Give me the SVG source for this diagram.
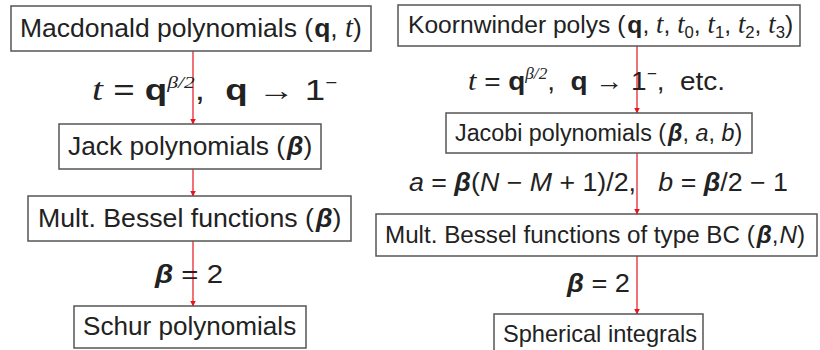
<svg xmlns="http://www.w3.org/2000/svg" width="820" height="350" viewBox="0 0 820 350">
<defs>
<marker id="ah" markerUnits="userSpaceOnUse" markerWidth="6" markerHeight="7" refX="5.5" refY="3" orient="auto">
<path d="M0,0 L6,3 L0,6 Z" fill="#e8141b"/>
</marker>
<style>
.box{fill:#fff;stroke:#555;stroke-width:1.5}
.t{font-family:"Liberation Sans",Arial,sans-serif;font-size:26px;fill:#222}
.r{font-size:25px}
.i{font-style:italic}
.b{font-weight:bold}
.bi{font-weight:bold;font-style:italic}
.m{font-family:"Liberation Serif",serif;font-style:italic;font-size:1.08em}
.sup{font-size:16px}
.sub{font-size:0.68em}
.conn{stroke:#e8141b;stroke-width:1.2;fill:none;marker-end:url(#ah)}
</style>
</defs>
<g id="connectors">
<line class="conn" x1="193" y1="51" x2="193" y2="124"/>
<line class="conn" x1="193" y1="169" x2="193" y2="196"/>
<line class="conn" x1="193" y1="241" x2="193" y2="306"/>
<line class="conn" x1="637" y1="46" x2="637" y2="113"/>
<line class="conn" x1="637" y1="153" x2="637" y2="214"/>
<line class="conn" x1="637" y1="256" x2="637" y2="314"/>
</g>
<g id="labels">
<text class="t" x="92" y="100" style="font-size:29px" textLength="245" lengthAdjust="spacingAndGlyphs"><tspan class="m">t</tspan>&#160;=&#160;<tspan class="b">q</tspan><tspan class="sup m" style="font-size:17px" dy="-12">β/2</tspan><tspan dy="12">,&#160;&#160;</tspan><tspan class="b">q</tspan>&#160;→&#160;1<tspan class="sup" dy="-12">−</tspan></text>
<text class="t" x="155" y="283" textLength="68" lengthAdjust="spacingAndGlyphs"><tspan class="bi">β</tspan>&#160;=&#160;2</text>
<text class="t" x="468" y="90" style="font-size:26px" textLength="257" lengthAdjust="spacingAndGlyphs"><tspan class="m">t</tspan>&#160;=&#160;<tspan class="b">q</tspan><tspan class="sup m" style="font-size:16px" dy="-11">β/2</tspan><tspan dy="11">,&#160;&#160;</tspan><tspan class="b">q</tspan>&#160;→&#160;1<tspan class="sup" dy="-11">−</tspan><tspan dy="11">,&#160;&#160;etc.</tspan></text>
<text class="t r" x="409" y="191" textLength="379" lengthAdjust="spacingAndGlyphs"><tspan class="i">a</tspan>&#160;=&#160;<tspan class="bi">β</tspan>(<tspan class="i">N</tspan>&#160;−&#160;<tspan class="i">M</tspan>&#160;+&#160;1)/2,&#160;&#160;&#160;<tspan class="i">b</tspan>&#160;=&#160;<tspan class="bi">β</tspan>/2&#160;−&#160;1</text>
<text class="t r" x="567" y="292" textLength="63" lengthAdjust="spacingAndGlyphs"><tspan class="bi">β</tspan>&#160;=&#160;2</text>
</g>
<g id="macdonald">
<rect class="box" x="11" y="6" width="360" height="45"/>
<text class="t" x="20" y="37" style="font-size:26.5px">Macdonald polynomials (<tspan class="b" dx="1">q</tspan>, <tspan class="m">t</tspan>)</text>
</g>
<g id="jack">
<rect class="box" x="59" y="124" width="262" height="45"/>
<text class="t" x="68" y="155" style="font-size:26.4px">Jack polynomials (<tspan class="bi" dx="2">β</tspan>)</text>
</g>
<g id="bessel">
<rect class="box" x="28" y="196" width="323" height="45"/>
<text class="t" x="38" y="227" style="font-size:26.7px">Mult. Bessel functions (<tspan class="bi" dx="2">β</tspan>)</text>
</g>
<g id="schur">
<rect class="box" x="74" y="306" width="232" height="42"/>
<text class="t" x="83" y="335" style="font-size:26.1px">Schur polynomials</text>
</g>
<g id="koornwinder">
<rect class="box" x="398" y="5" width="402" height="41"/>
<text class="t" x="408" y="33" style="font-size:24.6px">Koornwinder polys (<tspan class="b" dx="2">q</tspan>, <tspan class="m">t</tspan>, <tspan class="m">t</tspan><tspan class="sub" dy="5">0</tspan><tspan dy="-5">, </tspan><tspan class="m">t</tspan><tspan class="sub" dy="5">1</tspan><tspan dy="-5">, </tspan><tspan class="m">t</tspan><tspan class="sub" dy="5">2</tspan><tspan dy="-5">, </tspan><tspan class="m">t</tspan><tspan class="sub" dy="5">3</tspan><tspan dy="-5">)</tspan></text>
</g>
<g id="jacobi">
<rect class="box" x="446" y="113" width="306" height="40"/>
<text class="t" x="455" y="141" style="font-size:23.3px">Jacobi polynomials (<tspan class="bi" dx="2">β</tspan>, <tspan class="i">a</tspan>, <tspan class="i">b</tspan>)</text>
</g>
<g id="besselbc">
<rect class="box" x="376" y="214" width="441" height="42"/>
<text class="t" x="385" y="243" style="font-size:24.2px">Mult. Bessel functions of type BC (<tspan class="bi" dx="2">β</tspan>,<tspan class="i" dx="1">N</tspan>)</text>
</g>
<g id="spherical">
<rect class="box" x="494" y="314" width="209" height="42"/>
<text class="t" x="503" y="342" style="font-size:23.6px">Spherical integrals</text>
</g>
</svg>
